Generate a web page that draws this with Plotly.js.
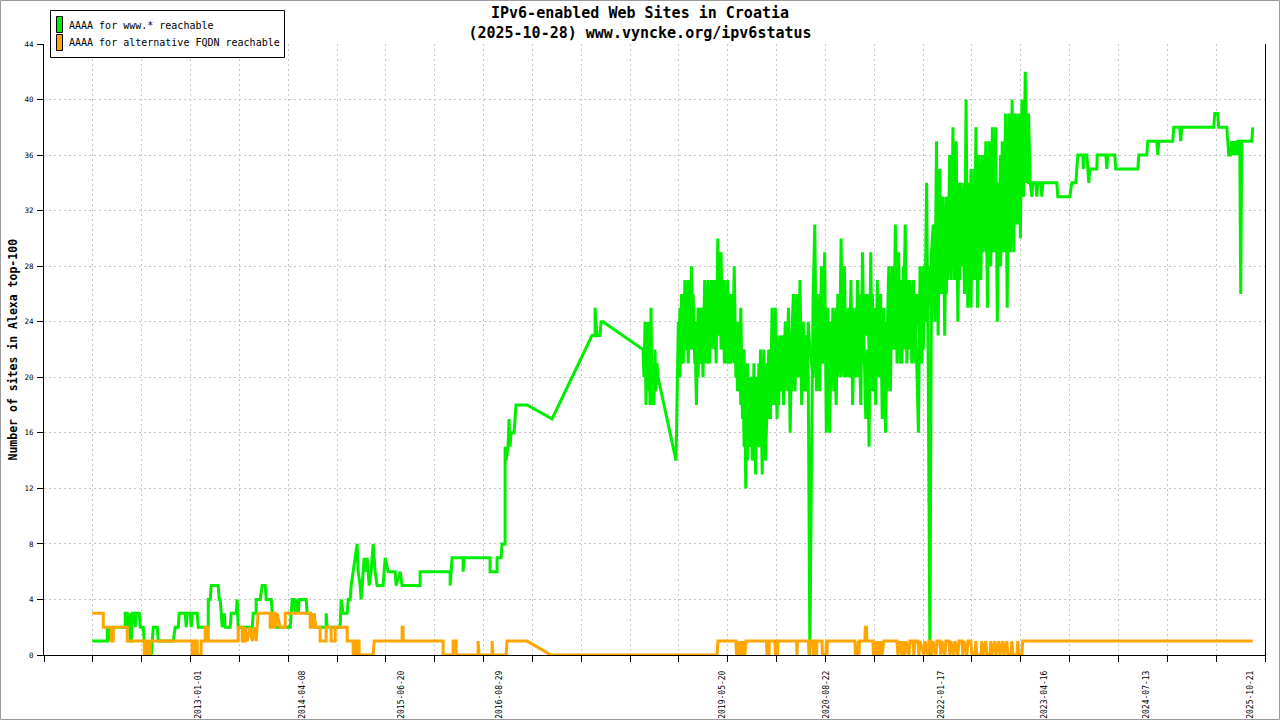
<!DOCTYPE html>
<html>
<head>
<meta charset="utf-8">
<script src="https://cdn.plot.ly/plotly-3.0.1.min.js"></script>
<style>
  html, body { margin: 0; padding: 0; background: #fff; }
  #chart { width: 1280px; height: 720px; }
</style>
</head>
<body>
<div id="chart"></div>
<script>
// x values are decimal years

// AAAA for www.* reachable, 2011 - 2018
var wwwYearEarly = [
  2011.711,2011.894,2011.894,2011.918,2011.930,2011.954,2011.967,2012.112,2012.112,2012.137,
  2012.149,2012.161,2012.173,2012.185,2012.198,2012.222,2012.234,2012.246,2012.283,2012.295,
  2012.331,2012.343,2012.356,2012.429,2012.441,2012.453,2012.502,2012.514,2012.696,2012.720,
  2012.757,2012.769,2012.842,2012.854,2012.866,2012.903,2012.915,2012.927,2012.988,2013.000,
  2013.122,2013.122,2013.146,2013.158,2013.243,2013.255,2013.267,2013.280,2013.292,2013.316,
  2013.328,2013.389,2013.401,2013.462,2013.474,2013.486,2013.657,2013.669,2013.705,2013.705,
  2013.754,2013.778,2013.815,2013.827,2013.888,2013.900,2013.912,2013.936,2013.948,2014.119,
  2014.131,2014.143,2014.167,2014.179,2014.191,2014.216,2014.228,2014.313,2014.325,2014.362,
  2014.374,2014.410,2014.422,2014.556,2014.556,2014.568,2014.726,2014.739,2014.763,2014.812,
  2014.824,2014.848,2014.860,2014.884,2014.909,2014.933,2014.945,2014.970,2014.982,2014.994,
  2015.018,2015.030,2015.055,2015.079,2015.103,2015.128,2015.152,2015.176,2015.249,2015.274,
  2015.310,2015.395,2015.407,2015.456,2015.480,2015.699,2015.699,2016.064,2016.064,2016.088,
  2016.222,2016.222,2016.234,2016.550,2016.550,2016.635,2016.635,2016.684,2016.696,2016.733,
  2016.733,2016.745,2016.769,2016.781,2016.793,2016.806,2016.842,2016.854,2016.866,2017.000,
  2017.304,2017.790,2017.827,2017.827,2017.839,2017.851,2017.888,2017.900,2017.924,2018.410,
  2018.422,2018.435,2018.447,2018.459,2018.471,2018.483,2018.495,2018.508,2018.520,2018.532,
  2018.544,2018.556,2018.568,2018.581,2018.593,2018.812
];
var wwwSitesEarly = [
  1,1,2,1,2,1,2,2,3,3,
  2,3,1,1,3,3,2,3,3,2,
  2,1,0,0,1,2,2,1,1,2,
  2,3,3,2,3,3,2,3,3,2,
  2,4,4,5,5,4,4,3,2,3,
  2,2,3,3,4,2,2,3,3,4,
  4,5,5,4,4,3,2,3,2,2,
  3,4,4,3,4,3,4,4,3,3,
  2,3,2,2,3,2,2,4,3,3,
  4,4,5,6,7,8,6,5,4,5,
  7,6,7,5,6,8,6,5,5,7,
  6,6,5,6,5,5,6,6,5,7,
  7,6,7,7,6,6,7,7,8,8,
  15,14,15,17,15,16,16,17,18,18,
  17,23,23,25,24,23,23,24,24,22,
  20,24,18,24,19,24,18,25,18,21,
  18,22,19,21,20,14
];

// AAAA for www.* reachable, 2018 - 2023 (daily swings): one value per sample and
// the other end of the same day-to-day range, so the band fills like the original
var wwwYearNoisy = [
  2018.84,2018.86,2018.88,2018.90,2018.92,2018.94,2018.96,2018.98,2019.00,2019.02,
  2019.04,2019.06,2019.08,2019.10,2019.12,2019.14,2019.16,2019.18,2019.20,2019.22,
  2019.24,2019.26,2019.28,2019.30,2019.32,2019.34,2019.36,2019.38,2019.40,2019.42,
  2019.44,2019.46,2019.48,2019.50,2019.52,2019.54,2019.56,2019.58,2019.60,2019.62,
  2019.64,2019.66,2019.68,2019.70,2019.72,2019.74,2019.76,2019.78,2019.80,2019.82,
  2019.84,2019.86,2019.88,2019.90,2019.92,2019.94,2019.96,2019.98,2020.00,2020.02,
  2020.04,2020.06,2020.08,2020.10,2020.12,2020.14,2020.16,2020.18,2020.20,2020.22,
  2020.24,2020.26,2020.28,2020.30,2020.32,2020.34,2020.36,2020.38,2020.40,2020.42,
  2020.44,2020.46,2020.48,2020.50,2020.52,2020.54,2020.56,2020.58,2020.60,2020.62,
  2020.64,2020.66,2020.68,2020.70,2020.72,2020.74,2020.76,2020.78,2020.80,2020.82,
  2020.84,2020.86,2020.88,2020.90,2020.92,2020.94,2020.96,2020.98,2021.00,2021.02,
  2021.04,2021.06,2021.08,2021.10,2021.12,2021.14,2021.16,2021.18,2021.20,2021.22,
  2021.24,2021.26,2021.28,2021.30,2021.32,2021.34,2021.36,2021.38,2021.40,2021.42,
  2021.44,2021.46,2021.48,2021.50,2021.52,2021.54,2021.56,2021.58,2021.60,2021.62,
  2021.64,2021.66,2021.68,2021.70,2021.72,2021.74,2021.76,2021.78,2021.80,2021.82,
  2021.84,2021.86,2021.88,2021.90,2021.92,2021.94,2021.96,2021.98,2022.00,2022.02,
  2022.04,2022.06,2022.08,2022.10,2022.12,2022.14,2022.16,2022.18,2022.20,2022.22,
  2022.24,2022.26,2022.28,2022.30,2022.32,2022.34,2022.36,2022.38,2022.40,2022.42,
  2022.44,2022.46,2022.48,2022.50,2022.52,2022.54,2022.56,2022.58,2022.60,2022.62,
  2022.64,2022.66,2022.68,2022.70,2022.72,2022.74,2022.76,2022.78,2022.80,2022.82,
  2022.84,2022.86,2022.88,2022.90,2022.92,2022.94,2022.96,2022.98,2023.00,2023.02,
  2023.04,2023.06,2023.08,2023.10,2023.12
];
var wwwSitesNoisy = [
  24,20,26,21,27,22,27,22,28,22,
  24,18,25,21,25,20,27,21,27,21,
  27,24,27,21,30,24,29,22,27,21,
  27,21,26,22,28,20,24,19,25,17,
  22,12,21,15,20,14,21,13,20,15,
  22,13,22,14,18,22,17,25,18,25,
  17,21,19,23,18,24,21,25,16,23,
  26,19,26,20,27,18,24,19,23,20,
  0,14,26,31,19,23,19,28,21,29,
  16,25,16,23,20,22,18,26,21,30,
  21,28,20,24,20,27,18,24,20,27,
  22,18,29,22,17,22,15,29,19,24,
  18,27,20,26,17,25,16,23,28,19,
  28,22,31,21,29,21,27,24,31,21,
  27,22,25,22,24,21,16,28,21,28,
  24,34,20,0,29,31,24,37,23,35,
  26,33,23,33,27,36,27,38,27,37,
  24,34,28,33,26,40,25,34,25,34,
  27,38,25,36,27,36,30,37,25,37,
  28,38,29,38,24,34,28,37,29,39,
  25,39,29,40,29,39,31,39,30,40,
  33,42,34,39,34
];
var wwwSitesNoisyOther = [
  21,25,21,26,22,26,21,26,22,26,
  21,24,20,25,21,25,22,26,21,26,
  22,27,22,27,23,28,22,27,21,26,
  21,26,21,26,21,24,19,23,18,22,
  15,20,14,20,15,20,14,20,15,21,
  15,21,15,20,21,17,22,18,23,19,
  23,18,23,19,23,19,23,19,23,19,
  20,25,20,25,20,24,19,23,19,24,
  22,21,20,22,26,20,26,21,26,21,
  24,19,24,19,25,19,25,20,25,20,
  26,20,25,20,25,20,25,20,25,20,
  26,24,21,26,23,26,22,20,26,19,
  25,20,25,20,24,19,24,19,21,26,
  22,27,22,27,22,27,21,28,22,27,
  22,27,21,27,21,26,25,22,27,22,
  28,25,28,26,24,26,31,26,31,26,
  33,27,32,26,33,28,34,28,34,28,
  32,27,34,28,34,29,34,28,35,28,
  35,29,35,29,35,29,35,29,35,29,
  36,29,36,30,34,30,36,30,36,31,
  36,31,37,31,37,32,37,32,37,33,
  38,34,38,34,34
];

// AAAA for www.* reachable, 2023 - 2025
var wwwYearLate = [
  2023.140,2023.152,2023.188,2023.201,2023.213,2023.249,2023.261,2023.274,2023.444,2023.456,
  2023.602,2023.626,2023.675,2023.687,2023.699,2023.760,2023.766,2023.772,2023.809,2023.821,
  2023.833,2023.845,2023.930,2023.936,2024.040,2024.052,2024.064,2024.149,2024.161,2024.429,
  2024.441,2024.538,2024.550,2024.660,2024.672,2024.684,2024.854,2024.866,2024.939,2024.951,
  2024.964,2025.353,2025.365,2025.401,2025.413,2025.511,2025.523,2025.535,2025.559,2025.571,
  2025.596,2025.608,2025.632,2025.644,2025.669,2025.675,2025.681,2025.693,2025.815,2025.827
];
var wwwSitesLate = [
  33,34,34,33,34,34,33,34,34,33,
  33,34,34,35,36,36,35,36,36,35,
  34,35,35,36,36,35,36,36,35,35,
  36,36,37,37,36,37,37,38,38,37,
  38,38,39,39,38,38,37,36,36,37,
  36,37,36,37,37,31,26,37,37,38
];

// AAAA for alternative FQDN reachable
var fqdnYearEarly = [
  2011.711,2011.845,2011.845,2011.942,2011.942,2011.967,2011.967,2012.137,2012.137,2012.343,
  2012.343,2012.368,2012.368,2012.404,2012.404,2012.416,2012.416,2012.927,2012.927,2012.964,
  2012.964,2012.988,2012.988,2013.036,2013.036,2013.085,2013.085,2013.122,2013.122,2013.486,
  2013.486,2013.535,2013.535,2013.571,2013.571,2013.596,2013.632,2013.657,2013.681,2013.705,
  2013.717,2013.729,2013.875,2013.875,2013.912,2013.912,2013.936,2013.936,2013.960,2013.997,
  2014.058,2014.058,2014.362,2014.362,2014.398,2014.398,2014.435,2014.483,2014.483,2014.556,
  2014.556,2014.617,2014.617,2014.666,2014.666,2014.812,2014.812,2014.884,2014.884,2014.921,
  2014.921,2014.957,2014.957,2015.128,2015.140,2015.480,2015.480,2015.492,2015.492,2015.979,
  2015.979,2016.100,2016.100,2016.137,2016.137,2016.404,2016.404,2016.416,2016.574,2016.574,
  2016.587,2016.745,2016.757,2017.000,2017.292,2019.310
];
var fqdnSitesEarly = [
  3,3,2,2,1,1,2,2,1,1,
  0,0,1,1,0,0,1,1,0,0,
  1,1,0,0,1,1,2,2,1,1,
  2,2,1,1,2,1,2,1,2,1,
  2,3,3,2,2,3,3,2,3,2,
  2,3,3,2,2,3,2,2,1,1,
  2,2,1,1,2,2,1,1,0,0,
  1,1,0,0,1,1,2,2,1,1,
  0,0,1,1,0,0,1,0,0,1,
  0,0,1,1,0,0
];
var fqdnYearLate = [
  2019.322,2019.541,2019.547,2019.559,2019.578,2019.590,2019.614,2019.626,2019.650,2019.663,
  2019.912,2019.918,2019.942,2019.948,2020.015,2020.021,2020.046,2020.052,2020.277,2020.283,
  2020.289,2020.422,2020.429,2020.441,2020.477,2020.483,2020.489,2020.514,2020.520,2020.526,
  2020.587,2020.593,2020.635,2020.641,2020.647,2020.653,2020.988,2020.994,2021.024,2021.030,
  2021.037,2021.043,2021.109,2021.115,2021.128,2021.134,2021.207,2021.213,2021.231,2021.243,
  2021.267,2021.280,2021.304,2021.316,2021.340,2021.499,2021.511,2021.535,2021.559,2021.571,
  2021.596,2021.608,2021.644,2021.657,2021.693,2021.705,2021.717,2021.754,2021.766,2021.778,
  2021.827,2021.839,2021.875,2021.888,2021.912,2021.924,2021.936,2021.973,2021.985,2022.021,
  2022.033,2022.046,2022.082,2022.094,2022.131,2022.143,2022.155,2022.191,2022.204,2022.240,
  2022.252,2022.289,2022.301,2022.313,2022.350,2022.362,2022.398,2022.410,2022.447,2022.459,
  2022.471,2022.520,2022.532,2022.544,2022.581,2022.593,2022.629,2022.641,2022.653,2022.690,
  2022.702,2022.739,2022.751,2022.787,2022.799,2022.836,2022.848,2022.884,2022.897,2022.909,
  2022.957,2022.970,2022.982,2023.018,2023.030,2025.827
];
var fqdnSitesLate = [
  1,1,0,1,0,1,0,1,0,1,
  1,0,0,1,1,0,0,1,1,0,
  1,1,0,1,1,0,1,1,0,1,
  1,0,0,1,0,1,1,0,0,1,
  0,1,1,2,2,1,1,0,1,0,
  1,0,1,0,1,1,0,1,0,1,
  0,1,0,1,1,0,1,1,0,1,
  0,1,0,1,1,0,1,0,1,1,
  0,1,0,1,1,0,1,0,1,0,
  1,1,0,1,0,1,1,0,0,1,
  0,0,1,0,1,0,0,1,0,1,
  0,1,0,1,0,1,0,0,1,0,
  0,1,0,0,1,1
];

// date labels under the axis
var labelYears = [2013.000, 2014.266, 2015.466, 2016.658, 2019.381, 2020.639, 2022.044, 2023.288, 2024.530, 2025.803];
var labelText = ['2013-01-01', '2014-04-08', '2015-06-20', '2016-08-29', '2019-05-20',
                 '2020-08-22', '2022-01-17', '2023-04-16', '2024-07-13', '2025-10-21'];

var seriesNames = ['AAAA for www.* reachable', 'AAAA for alternative FQDN reachable'];

var green = '#00ee00';
var orange = '#ffa500';
var mono = 'DejaVu Sans Mono, monospace';
var gridColor = '#c4c4c4';

// plot box in pixels
var plotL = 44, plotR = 1265, plotT = 44, plotB = 655;
function paperX(px) { return (px - plotL) / (plotR - plotL); }
function paperY(py) { return (plotB - py) / (plotB - plotT); }

var xStart = 2011.124, xEnd = 2025.976;

var greenLine = {color: green, width: 3, simplify: false};

var traces = [
  {
    x: wwwYearEarly.concat(wwwYearNoisy, wwwYearLate),
    y: wwwSitesEarly.concat(wwwSitesNoisy, wwwSitesLate),
    type: 'scatter', mode: 'lines', name: seriesNames[0],
    line: greenLine, hoverinfo: 'skip'
  },
  {
    x: wwwYearNoisy,
    y: wwwSitesNoisyOther,
    type: 'scatter', mode: 'lines', name: seriesNames[0],
    line: greenLine, hoverinfo: 'skip'
  },
  {
    x: fqdnYearEarly.concat(fqdnYearLate),
    y: fqdnSitesEarly.concat(fqdnSitesLate),
    type: 'scatter', mode: 'lines', name: seriesNames[1],
    line: {color: orange, width: 3, simplify: false},
    hoverinfo: 'skip'
  },
  {
    x: [], y: [], xaxis: 'x2', yaxis: 'y',
    type: 'scatter', mode: 'lines', showlegend: false, hoverinfo: 'skip'
  }
];

var layout = {
  width: 1280, height: 720,
  margin: {l: plotL, r: 1280 - plotR, t: plotT, b: 720 - plotB, pad: 0},
  paper_bgcolor: '#ffffff', plot_bgcolor: '#ffffff',
  showlegend: false,
  font: {family: mono, size: 8, color: '#000'},
  title: {
    text: 'IPv6-enabled Web Sites in Croatia<br>(2025-10-28) www.vyncke.org/ipv6status',
    font: {family: mono, size: 15, weight: 'bold', color: '#000'},
    x: 0.5, xref: 'container', xanchor: 'center',
    y: 0.975, yref: 'container', yanchor: 'top'
  },
  xaxis: {
    range: [xStart, xEnd],
    tickmode: 'linear', tick0: xStart, dtick: (xEnd - xStart) / 25,
    showticklabels: false,
    ticks: 'outside', ticklen: 6, tickwidth: 1, tickcolor: '#000',
    showgrid: true, gridcolor: gridColor, gridwidth: 1, griddash: '2px,3px',
    showline: true, linecolor: '#000', linewidth: 1,
    zeroline: false, fixedrange: true
  },
  xaxis2: {
    overlaying: 'x', side: 'bottom', anchor: 'y',
    range: [xStart, xEnd],
    tickmode: 'array', tickvals: labelYears, ticktext: labelText,
    tickangle: -90, ticks: '', ticklabelstandoff: 13,
    tickfont: {family: mono, size: 8, color: '#000'},
    showgrid: false, showline: false, zeroline: false, fixedrange: true
  },
  yaxis: {
    range: [0, 44],
    tickmode: 'linear', tick0: 0, dtick: 4,
    ticks: 'outside', ticklen: 6, tickwidth: 1, tickcolor: '#000',
    tickfont: {family: mono, size: 7.5, color: '#000'},
    ticklabelstandoff: 2,
    showgrid: true, gridcolor: gridColor, gridwidth: 1, griddash: '2px,3px',
    showline: true, mirror: true, linecolor: '#000', linewidth: 1,
    zeroline: false, fixedrange: true
  },
  shapes: [
    // outer frame of the picture
    {type: 'rect', xref: 'paper', yref: 'paper',
     x0: paperX(0.5), x1: paperX(1279.5), y0: paperY(719.5), y1: paperY(0.5),
     line: {color: '#9a9a9a', width: 1}, fillcolor: 'rgba(0,0,0,0)', layer: 'above'},
    // legend box
    {type: 'rect', xref: 'paper', yref: 'paper',
     x0: paperX(50.5), x1: paperX(284.5), y0: paperY(57.5), y1: paperY(10.5),
     line: {color: '#000', width: 1}, fillcolor: '#ffffff', layer: 'above'},
    {type: 'rect', xref: 'paper', yref: 'paper',
     x0: paperX(56.5), x1: paperX(62.5), y0: paperY(32.5), y1: paperY(16.5),
     line: {color: '#000', width: 1}, fillcolor: green, layer: 'above'},
    {type: 'rect', xref: 'paper', yref: 'paper',
     x0: paperX(56.5), x1: paperX(62.5), y0: paperY(50.5), y1: paperY(34.5),
     line: {color: '#000', width: 1}, fillcolor: orange, layer: 'above'}
  ],
  annotations: [
    {text: seriesNames[0], xref: 'paper', yref: 'paper',
     x: paperX(67), y: paperY(25.5), xanchor: 'left', yanchor: 'middle',
     showarrow: false, font: {family: mono, size: 10, color: '#000'}},
    {text: seriesNames[1], xref: 'paper', yref: 'paper',
     x: paperX(67), y: paperY(43), xanchor: 'left', yanchor: 'middle',
     showarrow: false, font: {family: mono, size: 10, color: '#000'}},
    {text: 'Number of sites in Alexa top-100', xref: 'paper', yref: 'paper',
     x: paperX(12), y: 0.5, xanchor: 'center', yanchor: 'middle', textangle: -90,
     showarrow: false, font: {family: mono, size: 11.5, weight: 'bold', color: '#000'}}
  ]
};

Plotly.newPlot('chart', traces, layout, {displayModeBar: false, staticPlot: true});
</script>
</body>
</html>
